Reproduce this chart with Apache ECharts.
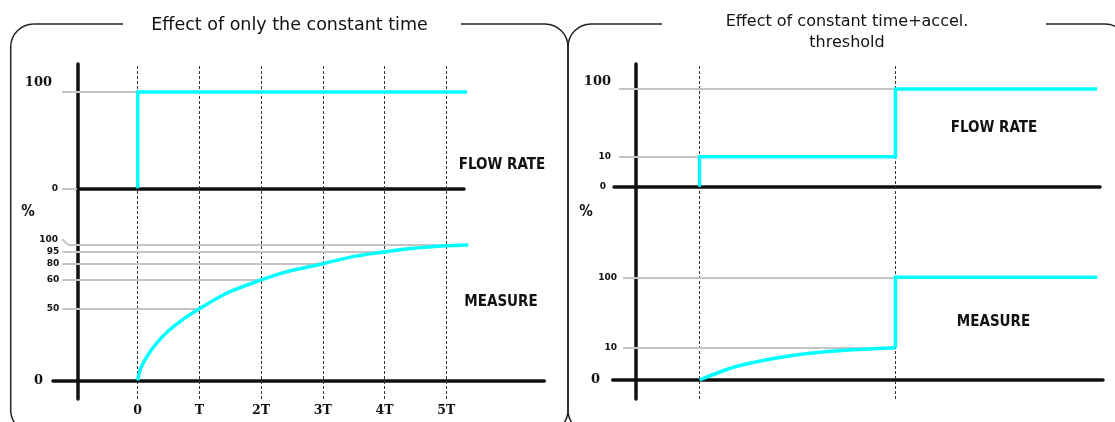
<!DOCTYPE html>
<html>
<head>
<meta charset="utf-8">
<title>Constant time effect</title>
<script src="https://cdn.jsdelivr.net/npm/echarts@6/dist/echarts.min.js"></script>
<style>
html, body { margin: 0; padding: 0; background: #fff; }
#chart { width: 1115px; height: 422px; }
</style>
</head>
<body>
<div id="chart"></div>
<script>
// values; y is the drawn height, the "100" level = 100
var timeTicks = [0, 1, 2, 3, 4, 5];
var timeLabels = ['0', 'T', '2T', '3T', '4T', '5T'];

// left: effect of only the constant time
var flowLevelsLeft = [0, 100];
var flowLabelsLeft = ['0', '100'];
var flowLeft = [[0, 0], [0, 100], [5.36, 100]];
var measureLeft = [[0, 0], [0.05, 9], [0.15, 17.5], [0.3, 27], [0.5, 36.5], [0.75, 45.5], [1, 52.8], [1.44, 64.2],
    [2, 74], [2.41, 80], [3, 86], [3.49, 91.2], [4, 94.6], [4.47, 97.3], [5, 99.2], [5.36, 99.8]];
var measureLevelsLeft = [52.8, 74, 86, 94.6, 100];
var measureLabelsLeft = ['50', '60', '80', '95', '100'];
var measureTimesLeft = [1, 2, 3, 4, 5];

// right: constant time + accel. threshold
var eventTimes = [0, 3];
var flowRight = [[0, 0], [0, 30.7], [3, 30.7], [3, 100], [6.09, 100]];
var flowLevelsRight = [30.7, 100];
var flowLabelsRight = ['10', '100'];
var flowTimesRight = [0, 3];
var measureRight = [[0, 0], [0.52, 12.4], [1.07, 20.2], [1.62, 25.6], [2.17, 28.8], [2.71, 30.6], [3, 31.4]];
var measureStepRight = [[3, 31.4], [3, 100], [6.09, 100]];
var measureLevelsRight = [31.4, 100];
var measureLabelsRight = ['10', '100'];
var measureTimesRight = [3, 3];

var CYAN = '#00ffff', GRAY = '#c4c4c4', INK = '#111';
var SERIF = '"DejaVu Serif", serif';
var SANS = '"DejaVu Sans", sans-serif';
var COND = '"DejaVu Sans Condensed", "DejaVu Sans", sans-serif';
var YMAX = 110;

// pixel layout: where t=0 sits and px per time unit
var L = { x0: 137.7, unit: 61.7 };
var R = { x0: 699.6, unit: 65.27 };

function box(p, leftPx, rightPx, zeroPx, fullPx) {
    var per = (zeroPx - fullPx) / 100;
    return {
        grid: { left: leftPx, top: zeroPx - per * YMAX, width: rightPx - leftPx, height: per * YMAX,
            containLabel: false, outerBoundsMode: 'none' },
        min: (leftPx - p.x0) / p.unit,
        max: (rightPx - p.x0) / p.unit
    };
}
function frame(p, leftPx, rightPx) {
    return {
        grid: { left: leftPx, top: 64, width: rightPx - leftPx, height: 335, containLabel: false, outerBoundsMode: 'none' },
        min: (leftPx - p.x0) / p.unit,
        max: (rightPx - p.x0) / p.unit
    };
}
var bLT = box(L, 77, 464, 188.3, 92);
var bLB = box(L, 53, 544.3, 380.3, 244.7);
var bRT = box(R, 614, 1100, 186.7, 89);
var bRB = box(R, 612.7, 1103, 380, 277.3);
var fL = frame(L, 77.3, 544.3);
var fR = frame(R, 635.7, 1103);
var boxes = [bLT, bLB, bRT, bRB, fL, fR];

var bigLabel = { fontFamily: SERIF, fontWeight: 'bold', fontSize: 13, color: INK };
var smallLabel = { fontFamily: SANS, fontWeight: 'bold', fontSize: 9, color: INK };

var xAxes = boxes.map(function (b, i) {
    return {
        type: 'value', gridIndex: i, min: b.min, max: b.max,
        axisLine: { show: i < 4, onZero: false, lineStyle: { color: INK, width: 3.5 } },
        axisTick: { show: false },
        axisLabel: { show: false },
        splitLine: { show: false }
    };
});
xAxes[4].axisLabel = {
    show: true, customValues: timeTicks, margin: 5,
    fontFamily: SERIF, fontWeight: 'bold', fontSize: 12.5, color: INK,
    formatter: function (v) { return timeLabels[timeTicks.indexOf(v)]; }
};

function yAxis(i, extra) {
    var a = {
        type: 'value', gridIndex: i, min: 0, max: i < 4 ? YMAX : 1,
        axisLine: { show: i >= 4, onZero: false, lineStyle: { color: INK, width: 3.5 } },
        axisTick: { show: false },
        axisLabel: { show: false },
        splitLine: { show: false }
    };
    return Object.assign(a, extra || {});
}
var yAxes = [
    yAxis(0, {
        axisTick: { show: true, customValues: flowLevelsLeft, length: 15, lineStyle: { color: GRAY, width: 2 } },
        axisLabel: {
            show: true, customValues: flowLevelsLeft, margin: 19,
            formatter: function (v) {
                var s = flowLabelsLeft[flowLevelsLeft.indexOf(v)];
                return v === 100 ? '{big|' + s + '}' : '{small|' + s + '}';
            },
            rich: {
                big: Object.assign({ padding: [0, 6, 19, 0] }, bigLabel),
                small: smallLabel
            }
        }
    }),
    yAxis(1, { axisLabel: Object.assign({ show: true, customValues: [0], margin: 10 }, bigLabel) }),
    yAxis(2, { axisLabel: Object.assign({ show: true, customValues: [0], margin: 8 }, smallLabel) }),
    yAxis(3, { axisLabel: Object.assign({ show: true, customValues: [0], margin: 12.7 }, bigLabel) }),
    yAxis(4),
    yAxis(5)
];

// gray level lines from the left margin to where the trace reaches them
function levelLines(levels, labels, times, xStart, bigOnes) {
    return levels.map(function (v, i) {
        var item = { name: labels[i], coord: [xStart, v] };
        if (bigOnes && bigOnes.indexOf(labels[i]) >= 0) item.label = { formatter: '{big|{b}}' };
        return [item, { coord: [times[i], v] }];
    });
}
var grayLine = { color: GRAY, width: 2, type: 'solid' };
var levelLabel = Object.assign({ show: true, position: 'start', distance: 3, formatter: '{b}',
    rich: { big: Object.assign({ padding: [0, 0, 14, 0] }, bigLabel) } }, smallLabel);

var lbStart = (62.3 - L.x0) / L.unit, lbKink = (68 - L.x0) / L.unit;
var lbLines = levelLines(measureLevelsLeft.slice(0, 4), measureLabelsLeft.slice(0, 4), measureTimesLeft.slice(0, 4), lbStart);
// the 100 label is pushed up; its leader bends down to the level
lbLines.push([{ name: measureLabelsLeft[4], coord: [lbStart, 104], label: { distance: [19, 0] } }, { coord: [lbKink, measureLevelsLeft[4]] }]);
lbLines.push([{ name: '', coord: [lbKink, measureLevelsLeft[4]], label: { show: false } }, { coord: [measureTimesLeft[4], measureLevelsLeft[4]] }]);

function markSeries(i, data, lineStyle, label, z) {
    return {
        type: 'line', xAxisIndex: i, yAxisIndex: i, data: [], z: z, silent: true, animation: false,
        markLine: { symbol: ['none', 'none'], silent: true, animation: false, lineStyle: lineStyle,
            label: label || { show: false }, data: data }
    };
}
function trace(i, data, smooth) {
    return {
        type: 'line', xAxisIndex: i, yAxisIndex: i, data: data, symbol: 'none', clip: false,
        smooth: smooth ? 0.3 : false,
        lineStyle: { color: CYAN, width: 3.5, cap: 'butt', join: 'miter' }, z: 5, animation: false, silent: true
    };
}
var dashed = { color: '#333', width: 1, type: [3, 2] };

var series = [
    markSeries(4, timeTicks.map(function (t) { return { xAxis: t }; }), dashed, null, 1),
    markSeries(5, eventTimes.map(function (t) { return { xAxis: t }; }), dashed, null, 1),
    markSeries(0, [[{ coord: [bLT.min, 100] }, { coord: [0, 100] }]], grayLine, null, 2),
    markSeries(1, lbLines, grayLine, levelLabel, 2),
    markSeries(2, levelLines(flowLevelsRight, flowLabelsRight, flowTimesRight, (619 - R.x0) / R.unit, ['100']),
        grayLine, Object.assign({}, levelLabel, { distance: 8 }), 2),
    markSeries(3, levelLines(measureLevelsRight, measureLabelsRight, measureTimesRight, (623 - R.x0) / R.unit),
        grayLine, Object.assign({}, levelLabel, { distance: 6 }), 2),
    trace(0, flowLeft),
    trace(1, measureLeft, true),
    trace(2, flowRight),
    trace(3, measureRight, true),
    trace(3, measureStepRight)
];

// panel borders: rounded boxes with a gap for the heading
function panel(x1, x2, top, bottom, r, gapL, gapR) {
    var s = { stroke: '#222', lineWidth: 1.5, fill: 'none' };
    var P = Math.PI;
    return [
        { type: 'arc', shape: { cx: x1 + r, cy: top + r, r: r, startAngle: P, endAngle: P * 1.5 }, style: s },
        { type: 'arc', shape: { cx: x2 - r, cy: top + r, r: r, startAngle: P * 1.5, endAngle: P * 2 }, style: s },
        { type: 'arc', shape: { cx: x1 + r, cy: bottom - r, r: r, startAngle: P * 0.5, endAngle: P }, style: s },
        { type: 'arc', shape: { cx: x2 - r, cy: bottom - r, r: r, startAngle: 0, endAngle: P * 0.5 }, style: s },
        { type: 'line', shape: { x1: x1 + r, y1: top, x2: gapL, y2: top }, style: s },
        { type: 'line', shape: { x1: gapR, y1: top, x2: x2 - r, y2: top }, style: s },
        { type: 'line', shape: { x1: x1, y1: top + r, x2: x1, y2: bottom - r }, style: s },
        { type: 'line', shape: { x1: x2, y1: top + r, x2: x2, y2: bottom - r }, style: s }
    ];
}
function text(x, y, str, font, extra) {
    return {
        type: 'text', x: x, y: y, silent: true,
        style: Object.assign({ text: str, font: font, fill: INK, align: 'center', verticalAlign: 'middle',
            textAlign: 'center', textVerticalAlign: 'middle' }, extra || {})
    };
}
var tagFont = 'bold 15px ' + COND;
var graphics = []
    .concat(panel(10.7, 568, 24, 433, 23, 123, 461))
    .concat(panel(568, 1128, 24, 433, 23, 662, 1046))
    .concat([
        text(289.5, 25, 'Effect of only the constant time', '17.5px ' + SANS),
        text(847, 32, 'Effect of constant time+accel.\nthreshold', '16px ' + SANS, { lineHeight: 21 }),
        text(502, 165, 'FLOW RATE', tagFont),
        text(501, 302, 'MEASURE', tagFont),
        text(994, 128, 'FLOW RATE', tagFont),
        text(993.5, 322, 'MEASURE', tagFont),
        text(28, 212, '%', 'bold 15px ' + COND),
        text(586, 212, '%', 'bold 15px ' + COND)
    ]);

var chart = echarts.init(document.getElementById('chart'), null, { renderer: 'canvas' });
chart.setOption({
    animation: false,
    backgroundColor: '#fff',
    grid: boxes.map(function (b) { return b.grid; }),
    xAxis: xAxes,
    yAxis: yAxes,
    series: series,
    graphic: { elements: graphics }
});
</script>
</body>
</html>
